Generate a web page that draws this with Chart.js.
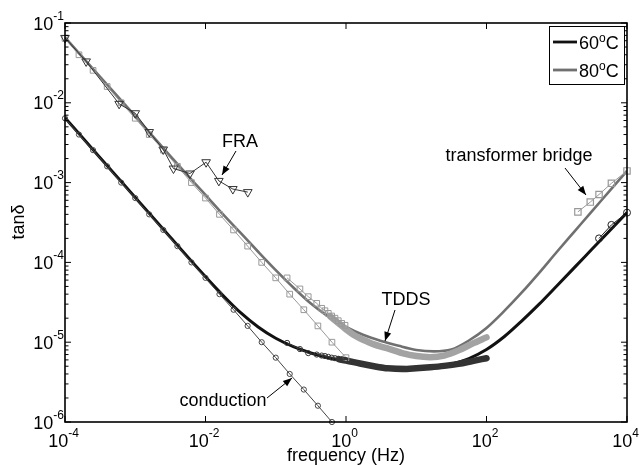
<!DOCTYPE html>
<html>
<head>
<meta charset="utf-8">
<script src="https://cdn.jsdelivr.net/npm/chart.js@4.4.0/dist/chart.umd.min.js"></script>
<style>
  html, body { margin: 0; padding: 0; background: #fff; }
</style>
</head>
<body>
<canvas id="chart" width="639" height="465"></canvas>
<script>
// model curves (solid lines)
const freqModel = [1e-4, 3.16e-4, 1e-3, 3.16e-3, 1e-2, 1.78e-2, 3.16e-2, 5.62e-2, 0.1, 0.178, 0.316, 0.562, 1, 1.78, 3.16, 5.62, 10, 17.8, 31.6, 56.2, 100, 178, 316, 562, 1000, 1780, 3160, 5620, 1e4];
const model60 = [6.5e-3, 2.05e-3, 6.5e-4, 2.06e-4, 6.6e-5, 3.85e-5, 2.34e-5, 1.55e-5, 1.12e-5, 8.8e-6, 7.33e-6, 6.38e-6, 5.75e-6, 5.31e-6, 5.01e-6, 4.84e-6, 4.79e-6, 4.9e-6, 5.31e-6, 6.24e-6, 8.1e-6, 1.17e-5, 1.84e-5, 3.0e-5, 5.07e-5, 8.6e-5, 1.46e-4, 2.48e-4, 4.2e-4];
const model80 = [6.6e-2, 2.12e-2, 6.8e-3, 2.15e-3, 7.0e-4, 4.0e-4, 2.34e-4, 1.36e-4, 8.0e-5, 4.84e-5, 3.05e-5, 2.09e-5, 1.55e-5, 1.23e-5, 1.035e-5, 9.0e-6, 8.0e-6, 7.67e-6, 8.1e-6, 1.05e-5, 1.51e-5, 2.45e-5, 4.17e-5, 7.4e-5, 1.35e-4, 2.43e-4, 4.37e-4, 7.8e-4, 1.4e-3];

// conduction lines (markers every 0.2 decade)
const freqCond = [1e-4, 1.58e-4, 2.51e-4, 3.98e-4, 6.31e-4, 1e-3, 1.58e-3, 2.51e-3, 3.98e-3, 6.31e-3, 1e-2, 1.58e-2, 2.51e-2, 3.98e-2, 6.31e-2, 0.1, 0.158, 0.251, 0.398, 0.631, 1];
const cond60 = [6.4e-3, 4.0e-3, 2.55e-3, 1.6e-3, 1.0e-3, 6.4e-4, 4.0e-4, 2.55e-4, 1.6e-4, 1.0e-4, 6.4e-5, 4.0e-5, 2.55e-5, 1.6e-5, 1.0e-5, 6.4e-6, 4.0e-6, 2.55e-6, 1.6e-6, 1.0e-6];
const cond80 = [6.4e-2, 4.0e-2, 2.55e-2, 1.6e-2, 1.0e-2, 6.4e-3, 4.0e-3, 2.55e-3, 1.6e-3, 1.0e-3, 6.4e-4, 4.0e-4, 2.55e-4, 1.6e-4, 1.0e-4, 6.4e-5, 4.0e-5, 2.55e-5, 1.6e-5, 1.0e-5, 6.4e-6];

// FRA (triangles)
const freqTri = [1e-4, 2.0e-4, 5.9e-4, 1.0e-3, 1.58e-3, 2.5e-3, 3.5e-3, 6.0e-3, 1.02e-2, 1.55e-2, 2.45e-2, 4.0e-2];
const triVals = [6.5e-2, 3.3e-2, 9.7e-3, 7.4e-3, 4.3e-3, 2.6e-3, 1.5e-3, 1.3e-3, 1.8e-3, 1.05e-3, 8.3e-4, 7.6e-4];

// FRA, dense part before TDDS
const freqFra = [0.145, 0.221, 0.290, 0.383, 0.451, 0.502, 0.560, 0.625, 0.697, 0.776, 0.869, 0.968];
const fra80 = [6.4e-5, 4.65e-5, 3.72e-5, 3.07e-5, 2.66e-5, 2.48e-5, 2.3e-5, 2.13e-5, 2.0e-5, 1.86e-5, 1.72e-5, 1.63e-5];
const fra60 = [9.8e-6, 8.2e-6, 7.3e-6, 7.0e-6, 6.8e-6, 6.7e-6, 6.55e-6, 6.4e-6, 6.3e-6, 6.2e-6, 6.1e-6, 6.0e-6];

// TDDS (thick bands)
const freqTdds80 = [0.6, 0.8, 1, 1.26, 1.58, 2, 2.5, 3.16, 4, 5, 6.3, 10, 15.8, 25, 40, 63, 100];
const tdds80 = [2.1e-5, 1.7e-5, 1.45e-5, 1.25e-5, 1.12e-5, 1.02e-5, 9.4e-6, 8.8e-6, 8.3e-6, 7.8e-6, 7.3e-6, 6.7e-6, 6.5e-6, 6.8e-6, 7.9e-6, 9.6e-6, 1.15e-5];
const freqTdds60 = [0.8, 1, 1.58, 2.5, 4, 6.3, 10, 15.8, 25, 40, 63, 100];
const tdds60 = [6.1e-6, 5.9e-6, 5.4e-6, 5.0e-6, 4.7e-6, 4.6e-6, 4.7e-6, 4.85e-6, 5.05e-6, 5.35e-6, 5.8e-6, 6.3e-6];

// transformer bridge
const freqTb80 = [2000, 3000, 4000, 6000, 10000];
const tb80 = [4.3e-4, 5.7e-4, 7.1e-4, 9.8e-4, 1.4e-3];
const freqTb60 = [4000, 6000, 10000];
const tb60 = [2.0e-4, 2.95e-4, 4.2e-4];

// tick exponents
const xTickExp = [-4, -2, 0, 2, 4];
const yTickExp = [-6, -5, -4, -3, -2, -1];

const FONT = '"Liberation Sans", Arial, sans-serif';

const pts = (xs, ys) => ys.map((v, i) => ({ x: xs[i], y: v }));

function powLabel(ctx, exp, x, py, align, baseDy, supDy) {
    const base = '10', sup = String(exp);
    ctx.font = '18px ' + FONT;
    const wb = ctx.measureText(base).width;
    ctx.font = '12px ' + FONT;
    const ws = ctx.measureText(sup).width;
    const x0 = align === 'right' ? x - wb - ws : x - (wb + ws) / 2;
    ctx.textAlign = 'left';
    ctx.textBaseline = 'alphabetic';
    ctx.font = '18px ' + FONT;
    ctx.fillText(base, x0, py + baseDy);
    ctx.font = '12px ' + FONT;
    ctx.fillText(sup, x0 + wb, py + supDy);
}

function seg(ctx, x1, y1, x2, y2) {
    ctx.beginPath();
    ctx.moveTo(x1, y1);
    ctx.lineTo(x2, y2);
    ctx.stroke();
}

function arrow(ctx, x1, y1, x2, y2) {
    seg(ctx, x1, y1, x2, y2);
    const ang = Math.atan2(y2 - y1, x2 - x1);
    const L = 9, W = 3.5;
    ctx.beginPath();
    ctx.moveTo(x2, y2);
    ctx.lineTo(x2 - L * Math.cos(ang) + W * Math.sin(ang), y2 - L * Math.sin(ang) - W * Math.cos(ang));
    ctx.lineTo(x2 - L * Math.cos(ang) - W * Math.sin(ang), y2 - L * Math.sin(ang) + W * Math.cos(ang));
    ctx.closePath();
    ctx.fill();
}

function tempLabel(ctx, t, x, baseY) {
    ctx.textAlign = 'left';
    ctx.font = '18px ' + FONT;
    ctx.fillText(t, x, baseY);
    const w1 = ctx.measureText(t).width;
    ctx.font = '12px ' + FONT;
    ctx.fillText('o', x + w1, baseY - 7);
    const w2 = ctx.measureText('o').width;
    ctx.font = '18px ' + FONT;
    ctx.fillText('C', x + w1 + w2, baseY);
}

// frame, ticks, labels, legend and annotations
const decor = {
    id: 'decor',
    afterDatasetsDraw(chart) {
        const { ctx, chartArea: a, scales: { x, y } } = chart;
        ctx.save();
        ctx.strokeStyle = '#000';
        ctx.fillStyle = '#000';

        ctx.lineWidth = 1;
        yTickExp.forEach(e => {
            for (let m = 1; m <= 9; m++) {
                if (e === -1 && m > 1) break;
                const py = y.getPixelForValue(m * Math.pow(10, e));
                const len = m === 1 ? 6 : 3.5;
                seg(ctx, a.left, py, a.left + len, py);
                seg(ctx, a.right, py, a.right - len, py);
            }
        });
        xTickExp.forEach(e => {
            const px = x.getPixelForValue(Math.pow(10, e));
            seg(ctx, px, a.bottom, px, a.bottom - 6);
            seg(ctx, px, a.top, px, a.top + 6);
        });

        ctx.lineWidth = 1.6;
        ctx.strokeRect(a.left, a.top, a.right - a.left, a.bottom - a.top);

        yTickExp.forEach(e => {
            powLabel(ctx, e, a.left - 1, y.getPixelForValue(Math.pow(10, e)), 'right', 6.5, -3.5);
        });
        xTickExp.forEach(e => {
            powLabel(ctx, e, x.getPixelForValue(Math.pow(10, e)) - 1.5, a.bottom, 'center', 25, 15);
        });

        // axis titles
        ctx.font = '18px ' + FONT;
        ctx.textAlign = 'center';
        ctx.textBaseline = 'alphabetic';
        ctx.fillText('frequency (Hz)', (a.left + a.right) / 2, 461);
        ctx.save();
        ctx.translate(24, 222);
        ctx.rotate(-Math.PI / 2);
        ctx.fillText('tanδ', 0, 0);
        ctx.restore();

        // legend
        ctx.fillStyle = '#fff';
        ctx.fillRect(549.5, 26.5, 75, 58);
        ctx.lineWidth = 1;
        ctx.strokeStyle = '#000';
        ctx.strokeRect(549.5, 26.5, 75, 58);
        ctx.lineWidth = 2.8;
        ctx.strokeStyle = '#111';
        seg(ctx, 553, 42, 577, 42);
        ctx.strokeStyle = '#707070';
        seg(ctx, 553, 70, 577, 70);
        ctx.fillStyle = '#000';
        tempLabel(ctx, '60', 579, 49);
        tempLabel(ctx, '80', 579, 77);

        // annotations
        ctx.font = '18px ' + FONT;
        ctx.textAlign = 'center';
        ctx.fillText('FRA', 240, 147);
        ctx.fillText('TDDS', 406, 305);
        ctx.fillText('transformer bridge', 519, 161);
        ctx.fillText('conduction', 223, 406);
        ctx.lineWidth = 1;
        ctx.strokeStyle = '#000';
        arrow(ctx, 236, 151, 222, 175);
        arrow(ctx, 395, 310, 385, 341);
        arrow(ctx, 565, 168, 586, 195);
        arrow(ctx, 267, 398, 292, 378);
        ctx.restore();
    }
};

new Chart(document.getElementById('chart'), {
    type: 'scatter',
    data: {
        datasets: [
            {
                data: pts(freqModel, model60), showLine: true, borderColor: '#111', borderWidth: 3,
                pointRadius: 0, cubicInterpolationMode: 'monotone', order: 10
            },
            {
                data: pts(freqModel, model80), showLine: true, borderColor: '#707070', borderWidth: 2.6,
                pointRadius: 0, cubicInterpolationMode: 'monotone', order: 11
            },
            {
                data: pts(freqTdds80, tdds80), showLine: true, borderColor: '#a3a3a3', borderWidth: 6.5,
                borderCapStyle: 'round', pointRadius: 0, cubicInterpolationMode: 'monotone', order: 8
            },
            {
                data: pts(freqTdds60, tdds60), showLine: true, borderColor: '#333', borderWidth: 6.5,
                borderCapStyle: 'round', pointRadius: 0, cubicInterpolationMode: 'monotone', order: 7
            },
            {
                data: pts(freqCond, cond60), showLine: true, borderColor: '#444', borderWidth: 1,
                pointStyle: 'circle', pointRadius: 2.6, pointBorderColor: '#444', pointBackgroundColor: 'rgba(0,0,0,0)',
                pointBorderWidth: 1, order: 5, clip: 6
            },
            {
                data: pts(freqCond, cond80), showLine: true, borderColor: '#999', borderWidth: 1,
                pointStyle: 'rect', pointRadius: 4, pointBorderColor: '#999', pointBackgroundColor: 'rgba(0,0,0,0)',
                pointBorderWidth: 1, order: 6, clip: 6
            },
            {
                data: pts(freqFra, fra80), showLine: true, borderColor: '#999', borderWidth: 1,
                pointStyle: 'rect', pointRadius: 4, pointBorderColor: '#999', pointBackgroundColor: 'rgba(0,0,0,0)',
                pointBorderWidth: 1, order: 4
            },
            {
                data: pts(freqFra, fra60), showLine: true, borderColor: '#333', borderWidth: 1,
                pointStyle: 'circle', pointRadius: 2.6, pointBorderColor: '#333', pointBackgroundColor: 'rgba(0,0,0,0)',
                pointBorderWidth: 1, order: 3
            },
            {
                data: pts(freqTri, triVals), showLine: true, borderColor: '#333', borderWidth: 1,
                pointStyle: 'triangle', pointRotation: 180, pointRadius: 5, pointBorderColor: '#333',
                pointBackgroundColor: 'rgba(0,0,0,0)', pointBorderWidth: 1, order: 2, clip: 6
            },
            {
                data: pts(freqTb80, tb80), showLine: true, borderColor: '#999', borderWidth: 1,
                pointStyle: 'rect', pointRadius: 4.5, pointBorderColor: '#999', pointBackgroundColor: 'rgba(0,0,0,0)',
                pointBorderWidth: 1.2, order: 2, clip: 6
            },
            {
                data: pts(freqTb60, tb60), showLine: true, borderColor: '#222', borderWidth: 1,
                pointStyle: 'circle', pointRadius: 3.5, pointBorderColor: '#222', pointBackgroundColor: 'rgba(0,0,0,0)',
                pointBorderWidth: 1, order: 2, clip: 6
            }
        ]
    },
    options: {
        responsive: false,
        devicePixelRatio: 1,
        animation: false,
        layout: { padding: { left: 65, right: 12, top: 23, bottom: 43 } },
        scales: {
            x: { type: 'logarithmic', min: 1e-4, max: 1e4, display: false },
            y: { type: 'logarithmic', min: 1e-6, max: 1e-1, display: false }
        },
        plugins: {
            legend: { display: false },
            tooltip: { enabled: false }
        }
    },
    plugins: [decor]
});
</script>
</body>
</html>
